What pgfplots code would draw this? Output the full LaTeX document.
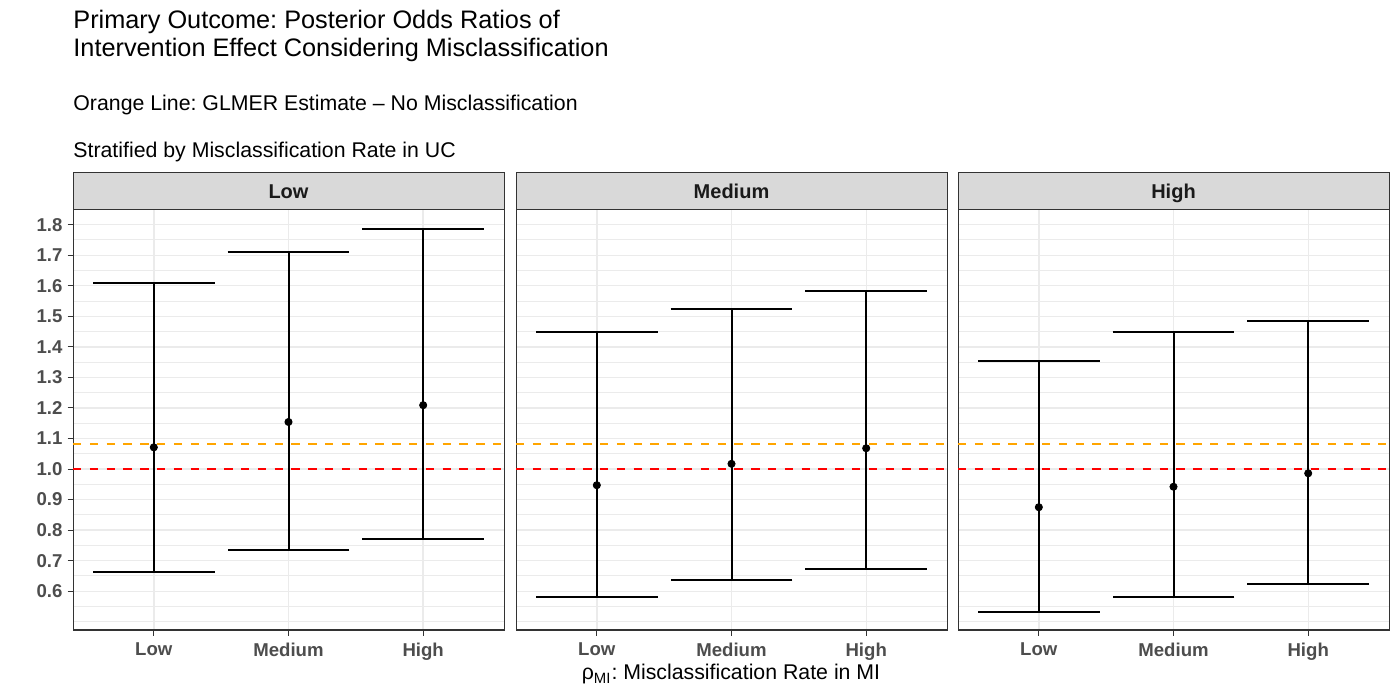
\documentclass[border=0pt]{standalone}
\usepackage{pgfplots}
\pgfplotsset{compat=1.18}
\usepackage{pgfplotstable}
\usepackage{fontspec}
\setmainfont{Liberation Sans}
\frenchspacing
\definecolor{grid92}{HTML}{EBEBEB}
\definecolor{g20}{HTML}{333333}
\definecolor{g30}{HTML}{4D4D4D}
\definecolor{g85}{HTML}{D9D9D9}
\definecolor{g10}{HTML}{1A1A1A}
\definecolor{orangeline}{HTML}{FFA500}
\definecolor{redline}{HTML}{FF0000}

\pgfplotstableread{
x y lo hi
1 1.071 0.664 1.609
2 1.154 0.734 1.710
3 1.209 0.772 1.786
}\lowtab
\pgfplotstableread{
x y lo hi
1 0.947 0.580 1.449
2 1.017 0.637 1.523
3 1.068 0.674 1.584
}\medtab
\pgfplotstableread{
x y lo hi
1 0.875 0.533 1.354
2 0.942 0.582 1.447
3 0.986 0.625 1.485
}\hightab

\pgfplotsset{
  panel/.style={
    scale only axis, width=215.5pt, height=210pt,
    anchor=south west,
    xmin=0.4, xmax=3.6, ymin=0.473, ymax=1.848,
    xtick={1,2,3}, xticklabels={Low,Medium,High},
    ytick={0.6,0.7,0.8,0.9,1.0,1.1,1.2,1.3,1.4,1.5,1.6,1.7,1.8},
    minor ytick={0.5,0.55,0.65,0.75,0.85,0.95,1.05,1.15,1.25,1.35,1.45,1.55,1.65,1.75},
    grid=both,
    major grid style={grid92, line width=0.7pt},
    minor grid style={grid92, line width=0.45pt},
    axis line style={g20, line width=0.5pt},
    tick style={g20, line width=0.5pt},
    tick align=outside, major tick length=2.75pt, minor tick length=0pt,
    xtick pos=bottom, ytick pos=left,
    ticklabel style={font=\fontsize{9.3}{11}\selectfont\bfseries, text=g30},
    yticklabel style={xshift=1pt},
    /pgf/number format/assume math mode=true,
    /pgf/number format/fixed, /pgf/number format/fixed zerofill,
    /pgf/number format/precision=1,
  },
  hl/.style={line width=1pt, dash pattern=on 4.2pt off 4.2pt},
  eb/.style={black, only marks, mark=*, mark size=1.8pt,
    error bars/.cd, y dir=both, y explicit, error mark=|,
    error bar style={line width=1pt, black},
    error mark options={black, line width=1pt, mark size=30.4pt}},
}

\newcommand{\strip}[2]{%
  \draw[g20, fill=g85, line width=0.5pt] (#1.north west) rectangle ([yshift=18.65pt]#1.north east);
  \node[font=\fontsize{10}{12}\selectfont\bfseries, text=g10, anchor=base] at ([yshift=5.9pt]#1.north) {#2};
}

\begin{document}
\begin{tikzpicture}
\useasboundingbox (0,0) rectangle (700pt,350pt);

\begin{axis}[panel, name=p1, at={(36.5pt,35pt)}]
  \addplot[orangeline, hl] coordinates {(0.4,1.081) (3.6,1.081)};
  \addplot[redline, hl] coordinates {(0.4,1.0) (3.6,1.0)};
  \addplot[eb] table[x=x, y=y, y error plus expr=\thisrow{hi}-\thisrow{y}, y error minus expr=\thisrow{y}-\thisrow{lo}] {\lowtab};
\end{axis}

\begin{axis}[panel, name=p2, at={(258pt,35pt)}, yticklabels={}, y tick style={draw=none}]
  \addplot[orangeline, hl] coordinates {(0.4,1.081) (3.6,1.081)};
  \addplot[redline, hl] coordinates {(0.4,1.0) (3.6,1.0)};
  \addplot[eb] table[x=x, y=y, y error plus expr=\thisrow{hi}-\thisrow{y}, y error minus expr=\thisrow{y}-\thisrow{lo}] {\medtab};
\end{axis}

\begin{axis}[panel, name=p3, at={(479pt,35pt)}, yticklabels={}, y tick style={draw=none}]
  \addplot[orangeline, hl] coordinates {(0.4,1.081) (3.6,1.081)};
  \addplot[redline, hl] coordinates {(0.4,1.0) (3.6,1.0)};
  \addplot[eb] table[x=x, y=y, y error plus expr=\thisrow{hi}-\thisrow{y}, y error minus expr=\thisrow{y}-\thisrow{lo}] {\hightab};
\end{axis}

\strip{p1}{Low}
\strip{p2}{Medium}
\strip{p3}{High}

\node[anchor=base west, inner sep=0pt, font=\fontsize{12.65}{14}\selectfont] at (36.5pt,335.5pt) {Primary Outcome: Posterior Odds Ratios of};
\node[anchor=base west, inner sep=0pt, font=\fontsize{12.65}{14}\selectfont] at (36.5pt,321.5pt) {Intervention Effect Considering Misclassification};
\node[anchor=base west, inner sep=0pt, font=\fontsize{10.65}{12}\selectfont] at (36.5pt,294.75pt) {Orange Line: GLMER Estimate – No Misclassification};
\node[anchor=base west, inner sep=0pt, font=\fontsize{10.65}{12}\selectfont] at (36.5pt,271.25pt) {Stratified by Misclassification Rate in UC};
\node[anchor=base, inner sep=0pt, font=\fontsize{10.65}{12}\selectfont] at (365.5pt,10pt) {ρ\textsubscript{MI}: Misclassification Rate in MI};
\end{tikzpicture}
\end{document}
